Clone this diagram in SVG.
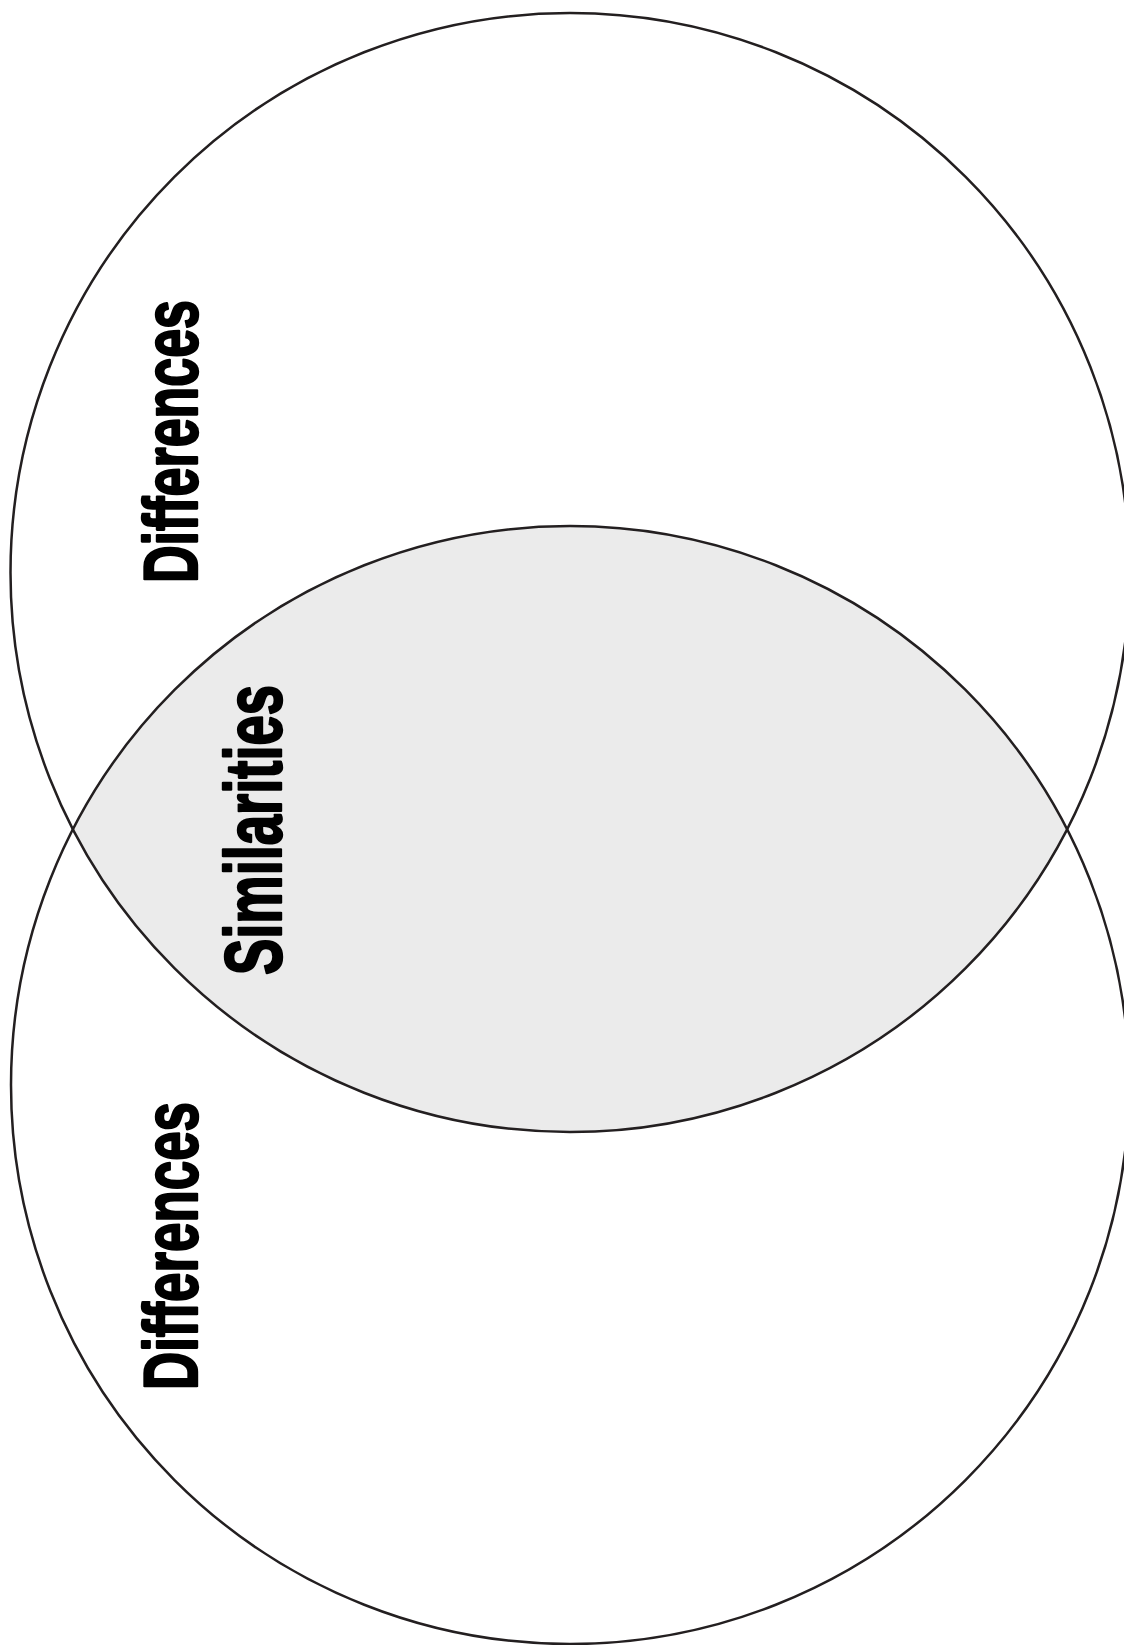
<svg xmlns="http://www.w3.org/2000/svg" width="1124" height="1645" viewBox="0 0 1124 1645">
<style>
.c{fill:none;stroke:#231f20;stroke-width:2.5}
.t{font-family:"Liberation Sans","DejaVu Sans",sans-serif;font-weight:bold;fill:#000;stroke:#000;stroke-width:2.4;stroke-linejoin:round}
</style>
<defs>
<clipPath id="clipTop"><circle cx="570" cy="572.5" r="559.5"/></clipPath>
</defs>
<rect width="1124" height="1645" fill="#fff"/>
<g id="lens">
<circle cx="570" cy="1085" r="559" fill="#ebebeb" clip-path="url(#clipTop)"/>
</g>
<g id="circle-top"><circle class="c" cx="570" cy="572.5" r="559.5"/></g>
<g id="circle-bottom"><circle class="c" cx="570" cy="1085" r="559"/></g>
<g id="label-top"><text class="t" font-size="76" textLength="283" lengthAdjust="spacingAndGlyphs" transform="translate(197,583) rotate(-90)">Differences</text></g>
<g id="label-middle"><text class="t" font-size="80" textLength="290" lengthAdjust="spacingAndGlyphs" transform="translate(281,975) rotate(-90)">Similarities</text></g>
<g id="label-bottom"><text class="t" font-size="76" textLength="288" lengthAdjust="spacingAndGlyphs" transform="translate(197,1390) rotate(-90)">Differences</text></g>
<g id="connectors"></g>
</svg>
